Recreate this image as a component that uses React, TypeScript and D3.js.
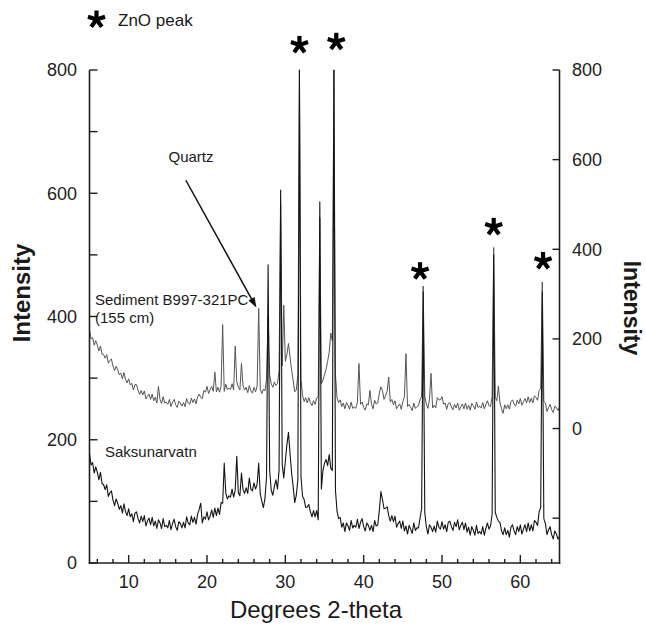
import React from "react";
import * as d3 from "d3";

// Scan grid (degrees 2-theta), 0.2 degree step from 5 to 65
const ANGLE_START = 5;
const ANGLE_STEP = 0.2;

// Saksunarvatn (left axis, Intensity) – one row = 2 degrees
const saksunarvatn: number[] = [
  178, 159, 163, 146, 156, 147, 135, 147, 129, 127,
  119, 127, 108, 114, 117, 102, 93, 104, 97, 87,
  93, 81, 96, 83, 77, 88, 75, 80, 67, 81,
  83, 72, 65, 76, 67, 77, 60, 68, 73, 62,
  74, 60, 68, 56, 70, 65, 56, 72, 59, 61,
  57, 69, 54, 64, 71, 59, 53, 67, 64, 57,
  66, 57, 75, 65, 62, 76, 66, 74, 63, 79,
  87, 97, 65, 75, 71, 83, 70, 76, 86, 74,
  89, 77, 89, 79, 98, 97, 162, 113, 104, 109,
  107, 120, 107, 118, 173, 114, 109, 146, 119, 113,
  122, 113, 138, 120, 117, 130, 120, 128, 162, 112,
  100, 90, 105, 140, 484, 150, 118, 110, 124, 135,
  120, 150, 605, 160, 138, 165, 192, 212, 178, 146,
  124, 98, 110, 135, 800, 140, 108, 103, 90, 91,
  95, 83, 75, 85, 75, 85, 70, 586, 120, 150,
  162, 168, 158, 176, 154, 150, 800, 118, 84, 72,
  74, 58, 65, 51, 65, 60, 53, 69, 57, 61,
  58, 71, 56, 66, 72, 59, 52, 65, 61, 53,
  61, 51, 69, 60, 62, 85, 116, 103, 88, 89,
  91, 77, 68, 77, 67, 76, 58, 64, 68, 56,
  68, 52, 60, 47, 61, 55, 48, 65, 53, 57,
  57, 73, 88, 440, 82, 59, 47, 62, 58, 51,
  60, 50, 68, 58, 55, 67, 55, 62, 51, 66,
  68, 59, 53, 66, 59, 70, 54, 61, 66, 54,
  65, 50, 58, 45, 59, 53, 45, 61, 48, 51,
  47, 59, 45, 56, 65, 55, 60, 80, 500, 82,
  74, 68, 66, 52, 46, 57, 46, 53, 42, 58,
  62, 52, 46, 59, 51, 62, 47, 55, 62, 51,
  65, 52, 62, 52, 69, 66, 61, 83, 90, 440,
  72, 64, 46, 54, 59, 46, 39, 52, 47, 39,
  43,
];

// Sediment B997-321PC (155 cm) (right axis, Intensity)
const sediment: number[] = [
  220, 200, 203, 186, 196, 186, 173, 184, 166, 165,
  157, 165, 146, 152, 155, 139, 129, 139, 131, 120,
  124, 111, 125, 110, 102, 111, 97, 101, 86, 98,
  98, 85, 76, 85, 75, 84, 66, 72, 77, 65,
  77, 62, 70, 57, 94, 65, 56, 71, 57, 59,
  54, 65, 49, 59, 65, 53, 47, 61, 57, 50,
  58, 49, 67, 57, 54, 68, 58, 66, 55, 71,
  77, 69, 67, 85, 81, 94, 78, 87, 94, 83,
  126, 82, 92, 81, 96, 232, 83, 99, 87, 90,
  87, 100, 86, 184, 104, 93, 86, 145, 95, 86,
  92, 80, 96, 84, 79, 92, 82, 95, 268, 88,
  78, 88, 84, 110, 250, 120, 100, 92, 104, 96,
  100, 130, 500, 140, 275, 150, 165, 190, 160, 130,
  108, 82, 86, 120, 800, 110, 74, 60, 69, 57,
  69, 58, 51, 62, 54, 68, 72, 470, 100, 108,
  120, 132, 150, 170, 213, 196, 800, 120, 68, 58,
  64, 49, 57, 44, 58, 52, 43, 59, 45, 48,
  45, 59, 145, 54, 59, 47, 41, 55, 53, 85,
  54, 44, 63, 55, 57, 79, 93, 85, 65, 74,
  83, 115, 59, 65, 53, 62, 44, 50, 55, 43,
  60, 70, 167, 49, 54, 47, 40, 57, 45, 49,
  51, 65, 72, 318, 72, 55, 45, 64, 123, 46,
  52, 46, 69, 64, 64, 71, 54, 57, 43, 56,
  58, 48, 42, 54, 46, 57, 41, 49, 55, 44,
  57, 43, 52, 41, 56, 51, 43, 59, 47, 50,
  46, 58, 44, 54, 62, 51, 49, 72, 404, 70,
  62, 95, 58, 44, 34, 53, 44, 53, 43, 60,
  64, 55, 50, 63, 55, 67, 52, 60, 67, 57,
  71, 58, 68, 57, 73, 69, 63, 85, 90, 327,
  60, 57, 38, 47, 54, 42, 36, 50, 47, 40,
  48,
];

// Axis ticks and labels
const leftTicks = [0, 100, 200, 300, 400, 500, 600, 700, 800];
const leftLabels = [0, 200, 400, 600, 800];
const rightTicks = [-200, 0, 200, 400, 600, 800];
const rightLabels = [0, 200, 400, 600, 800];
const xMajor = [10, 20, 30, 40, 50, 60];
const xMinor = [6, 8, 12, 14, 16, 18, 22, 24, 26, 28, 32, 34, 36, 38, 42, 44, 46, 48, 52, 54, 56, 58, 62, 64];

// ZnO peak markers: angle and level (right-axis units)
const starAngles = [31.8, 36.5, 47.2, 56.6, 62.9];
const starLevels = [856, 863, 351, 450, 374];

// Quartz arrow (angle, right-axis value)
const quartzArrowFrom: [number, number] = [17.3, 554];
const quartzArrowTo: [number, number] = [26.3, 270];

const W = 646;
const H = 626;
const FONT = "'Liberation Sans', Arial, Helvetica, sans-serif";

function Star({ cx, cy, r = 9, w = 4.2 }: { cx: number; cy: number; r?: number; w?: number }) {
  const arms = [0, 72, 144, 216, 288].map((a) => {
    const rad = ((a - 90) * Math.PI) / 180;
    return [cx + r * Math.cos(rad), cy + r * Math.sin(rad)];
  });
  return (
    <g stroke="#000" strokeWidth={w} strokeLinecap="butt">
      {arms.map((p, i) => (
        <line key={i} x1={cx} y1={cy} x2={p[0]} y2={p[1]} />
      ))}
    </g>
  );
}

export default function App() {
  const x = d3.scaleLinear().domain([5, 65]).range([89.5, 559.5]);
  const yL = d3.scaleLinear().domain([0, 800]).range([563, 70]);
  const yR = d3.scaleLinear().domain([-300, 800]).range([563, 70]);

  const lowerPts: [number, number][] = saksunarvatn.map((v, i) => [ANGLE_START + i * ANGLE_STEP, v]);
  const upperPts: [number, number][] = sediment.map((v, i) => [ANGLE_START + i * ANGLE_STEP, v]);

  const lineL = d3
    .line<[number, number]>()
    .x((d) => x(d[0]))
    .y((d) => yL(d[1]));
  const lineR = d3
    .line<[number, number]>()
    .x((d) => x(d[0]))
    .y((d) => yR(d[1]));

  const axisColor = "#1e1e1e";
  const ax0 = x(5);
  const ax1 = x(65);
  const yBottom = yL(0);
  const yTop = yL(800);

  const af = [x(quartzArrowFrom[0]), yR(quartzArrowFrom[1])];
  const at = [x(quartzArrowTo[0]), yR(quartzArrowTo[1])];
  const ang = Math.atan2(at[1] - af[1], at[0] - af[0]);
  const hl = 10;
  const hw = 3.5;
  const head = [
    [at[0], at[1]],
    [at[0] - hl * Math.cos(ang) + hw * Math.sin(ang), at[1] - hl * Math.sin(ang) - hw * Math.cos(ang)],
    [at[0] - hl * Math.cos(ang) - hw * Math.sin(ang), at[1] - hl * Math.sin(ang) + hw * Math.cos(ang)],
  ];

  return (
    <svg
      width={W}
      height={H}
      viewBox={`0 0 ${W} ${H}`}
      style={{ position: "absolute", left: 0, top: 0, background: "#fff" }}
      fontFamily={FONT}
    >
      <rect x={0} y={0} width={W} height={H} fill="#fff" />

      {/* data traces */}
      <path d={lineR(upperPts) || ""} fill="none" stroke="#555" strokeWidth={1} strokeLinejoin="round" />
      <path d={lineL(lowerPts) || ""} fill="none" stroke="#141414" strokeWidth={1.1} strokeLinejoin="round" />

      {/* axes frame */}
      <g stroke={axisColor} strokeWidth={1.6} fill="none">
        <line x1={ax0} y1={yTop} x2={ax0} y2={yBottom + 0.8} />
        <line x1={ax1} y1={yTop} x2={ax1} y2={yBottom + 0.8} />
        <line x1={ax0 - 0.8} y1={yBottom} x2={ax1 + 0.8} y2={yBottom} />
      </g>

      {/* left ticks */}
      <g stroke={axisColor} strokeWidth={1.4}>
        {leftTicks.map((t) => (
          <line key={t} x1={ax0} x2={ax0 + 8} y1={yL(t)} y2={yL(t)} />
        ))}
      </g>
      <g fontSize={18} fill="#222" textAnchor="end">
        {leftLabels.map((t) => (
          <text key={t} x={77} y={yL(t)} dy="0.36em">
            {t}
          </text>
        ))}
      </g>

      {/* right ticks */}
      <g stroke={axisColor} strokeWidth={1.4}>
        {rightTicks.map((t) => (
          <line key={t} x1={ax1 - 7} x2={ax1} y1={yR(t)} y2={yR(t)} />
        ))}
      </g>
      <g fontSize={18} fill="#222" textAnchor="start">
        {rightLabels.map((t) => (
          <text key={t} x={572} y={yR(t)} dy="0.36em">
            {t}
          </text>
        ))}
      </g>

      {/* bottom ticks */}
      <g stroke={axisColor} strokeWidth={1.4}>
        {xMajor.map((t) => (
          <line key={t} x1={x(t)} x2={x(t)} y1={yBottom} y2={yBottom - 8} />
        ))}
        {xMinor.map((t) => (
          <line key={t} x1={x(t)} x2={x(t)} y1={yBottom} y2={yBottom - 4} />
        ))}
      </g>
      <g fontSize={18} fill="#222" textAnchor="middle">
        {xMajor.map((t) => (
          <text key={t} x={x(t)} y={588}>
            {t}
          </text>
        ))}
      </g>

      {/* axis titles */}
      <text x={316} y={618} fontSize={24} textAnchor="middle" fill="#1a1a1a">
        Degrees 2-theta
      </text>
      <text
        transform="translate(30,293) rotate(-90)"
        fontSize={24}
        fontWeight="bold"
        textAnchor="middle"
        fill="#1a1a1a"
      >
        Intensity
      </text>
      <text
        transform="translate(624,308) rotate(90)"
        fontSize={23}
        fontWeight="bold"
        textAnchor="middle"
        fill="#1a1a1a"
      >
        Intensity
      </text>

      {/* legend */}
      <Star cx={96.5} cy={19.5} />
      <text x={118} y={26} fontSize={17} fill="#1a1a1a">
        ZnO peak
      </text>

      {/* ZnO peak stars */}
      {starAngles.map((a, i) => (
        <Star key={a} cx={x(a)} cy={yR(starLevels[i])} />
      ))}

      {/* annotations */}
      <text x={191} y={162} fontSize={15} textAnchor="middle" fill="#1a1a1a">
        Quartz
      </text>
      <line x1={af[0]} y1={af[1]} x2={at[0] - 6 * Math.cos(ang)} y2={at[1] - 6 * Math.sin(ang)} stroke="#111" strokeWidth={1.5} />
      <polygon points={head.map((p) => p.join(",")).join(" ")} fill="#111" />
      <text x={95} y={305} fontSize={15} fill="#1a1a1a">
        Sediment B997-321PC
      </text>
      <text x={95} y={323} fontSize={15} fill="#1a1a1a">
        (155 cm)
      </text>
      <text x={105} y={457} fontSize={15} fill="#1a1a1a">
        Saksunarvatn
      </text>
    </svg>
  );
}
